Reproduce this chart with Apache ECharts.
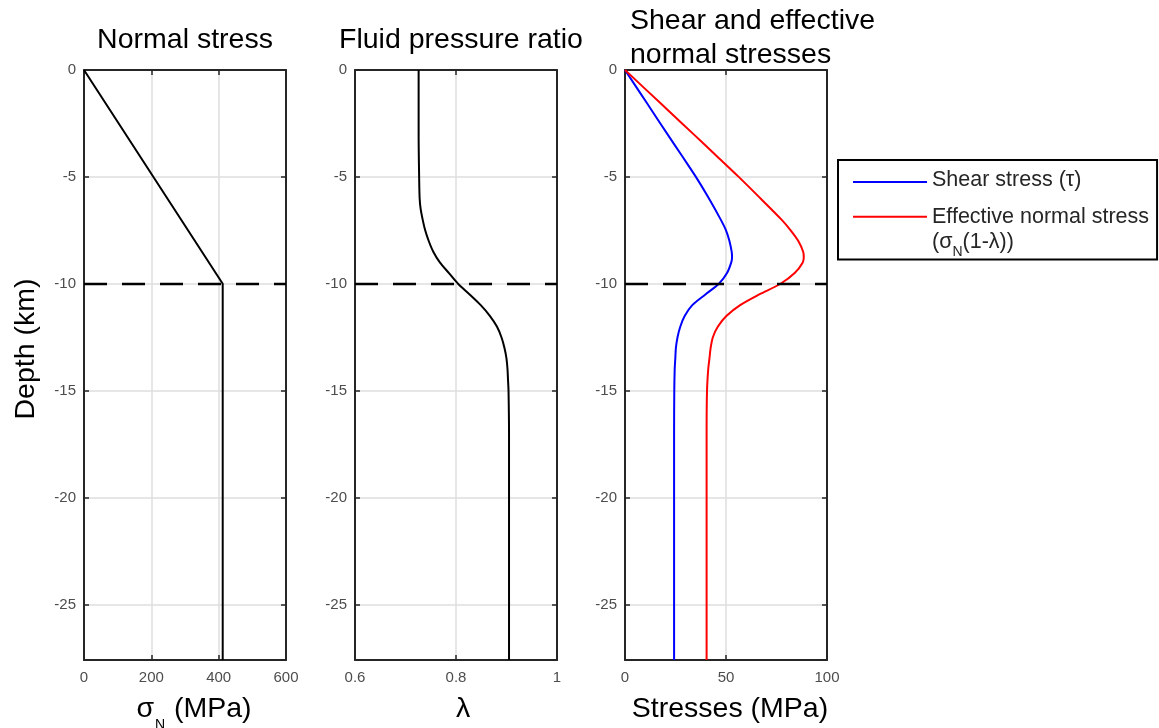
<!DOCTYPE html>
<html>
<head>
<meta charset="utf-8">
<script src="https://cdn.jsdelivr.net/npm/echarts@6/dist/echarts.min.js"></script>
<style>
html,body{margin:0;padding:0;background:#fff;}
#chart{width:1159px;height:728px;}
</style>
</head>
<body>
<div id="chart"></div>
<script>
// ---- Data (depth in km, negative downward) ----
const sigmaDepth = [0, -10, -27.6];
const sigmaN = [0, 412, 412];               // MPa

const lambdaDepth = [0, -3, -5, -6, -6.5, -7, -7.5, -8, -8.5, -9, -9.5, -10, -10.5, -11, -11.5, -12, -12.5, -13, -13.5, -14, -14.5, -15, -17, -27.6];
const lambdaVals  = [0.726, 0.726, 0.727, 0.728, 0.730, 0.734, 0.739, 0.746, 0.755, 0.768, 0.786, 0.804, 0.827, 0.849, 0.867, 0.881, 0.890, 0.896, 0.900, 0.902, 0.903, 0.904, 0.905, 0.905];

const stressDepth = [0, -1, -2, -3, -4, -5, -6, -7, -7.5, -8, -8.5, -8.75, -9, -9.5, -10, -10.5, -11, -11.5, -12, -12.5, -13, -13.5, -14, -15, -17, -27.6];
const shearVals   = [0, 7, 14, 21, 28.1, 35.1, 41.5, 47.4, 50, 51.7, 52.8, 53, 52.6, 50.5, 46.5, 39.8, 33.3, 29.6, 27.4, 26, 25.2, 24.9, 24.6, 24.4, 24.3, 24.3];
const effNormalVals = [0, 11.3, 22.6, 33.9, 45.1, 56.3, 67, 77.5, 82, 85.8, 88.2, 88.5, 88, 84, 77, 66.5, 57, 50.3, 46, 43.5, 42.4, 41.8, 41.2, 40.6, 40.4, 40.4];

const transitionDepth = -10;
const depthRange = 27.6;

const titles = ['Normal stress', 'Fluid pressure ratio', 'Shear and effective\nnormal stresses'];
const shearName = 'Shear stress (τ)';
const effName = 'Effective normal stress';

// ---- Styling ----
const FONT = "'Liberation Sans', Arial, Helvetica, sans-serif";
const AX = '#262626';
const LBL = '#4d4d4d';
const GRIDC = '#dedede';
const FS = 28.5;

const panels = [
  {left: 84, min: 0, max: 600, interval: 200},
  {left: 355, min: 0.6, max: 1, interval: 0.2},
  {left: 625, min: 0, max: 100, interval: 50}
];

const grids = panels.map(p => ({
  left: p.left, top: 70, width: 202, height: 590,
  outerBoundsMode: 'none', containLabel: false,
  show: false
}));

const nameStyleRich = {
  a: {fontSize: FS, lineHeight: 30, verticalAlign: 'top', color: '#000', fontFamily: FONT},
  s: {fontSize: 14, lineHeight: 14, verticalAlign: 'top', padding: [23, 1, 0, 1], color: '#000', fontFamily: FONT}
};
const xNames = ['{a|σ}{s|N}{a| (MPa)}', '{a|λ}', '{a|Stresses (MPa)}'];
const xNamePad = [[0, 0, 0, 18], [0, 0, 0, 14], [0, 0, 0, 8]];

const tickStyle = {inside: true, length: 5, lineStyle: {color: AX, width: 1.5}};
const lineStyleAx = {show: true, onZero: false, lineStyle: {color: AX, width: 2}};

const xAxes = [];
panels.forEach((p, i) => {
  xAxes.push({
    type: 'value', gridIndex: i, position: 'bottom',
    min: p.min, max: p.max, interval: p.interval,
    name: xNames[i], nameLocation: 'middle', nameGap: 35,
    nameTextStyle: {rich: nameStyleRich, padding: xNamePad[i]},
    axisLine: lineStyleAx,
    axisTick: tickStyle,
    axisLabel: {margin: 10, fontSize: 15, color: LBL, fontFamily: FONT},
    splitLine: {show: true, lineStyle: {color: GRIDC, width: 1.5}}
  });
});
panels.forEach((p, i) => {
  xAxes.push({
    type: 'value', gridIndex: i, position: 'top',
    min: p.min, max: p.max, interval: p.interval,
    axisLine: lineStyleAx, axisTick: tickStyle,
    axisLabel: {show: false}, splitLine: {show: false}
  });
});

const yAxes = [];
panels.forEach((p, i) => {
  const ax = {
    type: 'value', gridIndex: i, position: 'left', inverse: true,
    min: 0, max: depthRange, interval: 5,
    axisLine: lineStyleAx, axisTick: tickStyle,
    axisLabel: {
      margin: 8, fontSize: 15, color: LBL, fontFamily: FONT, showMaxLabel: false,
      formatter: v => (Math.abs(v - depthRange) < 1e-6 ? '' : (v === 0 ? '0' : '-' + v))
    },
    splitLine: {show: true, lineStyle: {color: GRIDC, width: 1.5}}
  };
  if (i === 0) {
    ax.name = 'Depth (km)';
    ax.nameLocation = 'middle';
    ax.nameGap = 43;
    ax.nameTextStyle = {fontSize: FS, lineHeight: 30, color: '#000', fontFamily: FONT, padding: [0, 0, 0, 32]};
  }
  yAxes.push(ax);
});
panels.forEach((p, i) => {
  yAxes.push({
    type: 'value', gridIndex: i, position: 'right', inverse: true,
    min: 0, max: depthRange, interval: 5,
    axisLine: lineStyleAx, axisTick: tickStyle,
    axisLabel: {show: false}, splitLine: {show: false}
  });
});

const zip = (xs, ds) => xs.map((x, k) => [x, -ds[k]]);

const series = [];
// dashed transition-depth lines
panels.forEach((p, i) => {
  series.push({
    type: 'line', xAxisIndex: i, yAxisIndex: i, data: [], silent: true,
    markLine: {
      silent: true, symbol: 'none', label: {show: false}, animation: false,
      lineStyle: {type: [23, 15], color: '#000', width: 2.4},
      data: [{yAxis: -transitionDepth}]
    }
  });
});
series.push({
  name: 'Normal stress', type: 'line', xAxisIndex: 0, yAxisIndex: 0,
  data: zip(sigmaN, sigmaDepth), showSymbol: false, color: '#000',
  lineStyle: {color: '#000', width: 2}
});
series.push({
  name: 'Fluid pressure ratio', type: 'line', xAxisIndex: 1, yAxisIndex: 1,
  data: zip(lambdaVals, lambdaDepth), showSymbol: false, color: '#000',
  smooth: 0.3,
  lineStyle: {color: '#000', width: 2}
});
series.push({
  name: shearName, type: 'line', xAxisIndex: 2, yAxisIndex: 2,
  data: zip(shearVals, stressDepth), showSymbol: false, color: '#0000ff',
  smooth: 0.3,
  lineStyle: {color: '#0000ff', width: 2}
});
series.push({
  name: effName, type: 'line', xAxisIndex: 2, yAxisIndex: 2,
  data: zip(effNormalVals, stressDepth), showSymbol: false, color: '#ff0000',
  smooth: 0.3,
  lineStyle: {color: '#ff0000', width: 2}
});

const titleStyle = {fontSize: FS, fontWeight: 'normal', color: '#000', fontFamily: FONT};

const option = {
  animation: false,
  backgroundColor: '#fff',
  title: [
    {text: titles[0], left: 185, top: 26, textAlign: 'center', padding: 0, textStyle: titleStyle},
    {text: titles[1], left: 461, top: 26, textAlign: 'center', padding: 0, textStyle: titleStyle},
    {text: titles[2], left: 630, top: 4, padding: 0, textStyle: Object.assign({lineHeight: 34}, titleStyle)}
  ],
  grid: grids,
  xAxis: xAxes,
  yAxis: yAxes,
  legend: {
    orient: 'vertical', left: 838, top: 160,
    padding: [9.5, 8, 0, 15], itemGap: -17,
    itemWidth: 74, itemHeight: 2, icon: 'rect',
    borderColor: '#000', borderWidth: 2, backgroundColor: '#fff',
    selectedMode: false,
    textStyle: {
      fontFamily: FONT, fontSize: 21.5, color: AX, lineHeight: 25,
      rich: {
        a: {fontSize: 21.5, lineHeight: 25, verticalAlign: 'top', color: AX, fontFamily: FONT},
        s: {fontSize: 14, lineHeight: 14, verticalAlign: 'top', padding: [14.5, 0, 0, 0], color: AX, fontFamily: FONT}
      }
    },
    data: [
      {name: shearName},
      {name: effName, textStyle: {padding: [28.5, 0, 0, 0]}}
    ],
    formatter: n => n === effName
      ? '{a|Effective normal stress}\n{a|(σ}{s|N}{a|(1-λ))}'
      : '{a|' + n + '}'
  },
  series: series
};

const chart = echarts.init(document.getElementById('chart'), null, {renderer: 'canvas'});
chart.setOption(option);
</script>
</body>
</html>
